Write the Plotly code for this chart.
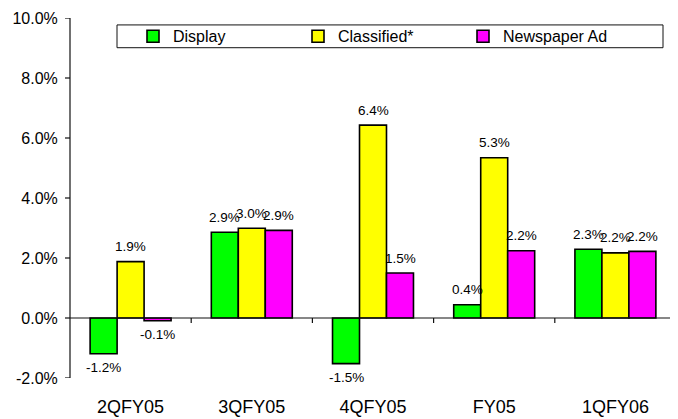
import plotly.graph_objects as go

categories = ["2QFY05", "3QFY05", "4QFY05", "FY05", "1QFY06"]
display = [-1.19, 2.86, -1.52, 0.44, 2.29]
classified = [1.88, 2.99, 6.43, 5.34, 2.17]
newspaper = [-0.09, 2.92, 1.50, 2.24, 2.22]
series_names = ["Display", "Classified*", "Newspaper Ad"]
colors = ["#00FF00", "#FFFF00", "#FF00FF"]
y_ticks = [-2, 0, 2, 4, 6, 8, 10]

# page is displayed with an 8px offset; figure sized to fill the rest
W, H = 670, 411
L, R, T, B = 62, 2, 9, 38.5
pw = W - L - R
ph = H - T - B
PLOT_LEFT, PLOT_BOTTOM = 70, 380.5  # in window pixels

def px_x(p):
    return (p - PLOT_LEFT) / pw

def px_y(p):
    return (PLOT_BOTTOM - p) / ph

FONT = "Liberation Sans, Arial, sans-serif"
LINE = "#111111"

fig = go.Figure()
all_series = [display, classified, newspaper]
for name, vals, col in zip(series_names, all_series, colors):
    fig.add_trace(go.Bar(
        x=categories, y=vals, name=name,
        marker=dict(color=col, line=dict(color="black", width=1.6)),
    ))

bar_px = 27
for i, vals in enumerate(all_series):
    for cat, v in zip(categories, vals):
        fig.add_annotation(
            x=cat, y=v, text=f"{v:.1f}%", showarrow=False,
            xshift=(i - 1) * bar_px,
            yshift=15 if v >= 0 else -14,
            font=dict(family=FONT, size=13.5, color="black"),
        )

shapes = [
    # legend frame
    dict(type="rect", xref="paper", yref="paper",
         x0=px_x(117), x1=px_x(663), y0=px_y(47), y1=px_y(24),
         line=dict(color=LINE, width=1), fillcolor="rgba(0,0,0,0)", layer="below"),
    # clipped title underline
    dict(type="rect", xref="paper", yref="paper",
         x0=px_x(252), x1=px_x(510), y0=px_y(4), y1=px_y(-3),
         line=dict(width=0), fillcolor="black"),
    # y-axis line
    dict(type="rect", xref="paper", yref="paper", xsizemode="pixel", xanchor=0,
         x0=-0.6, x1=0.6, y0=0, y1=1, line=dict(width=0), fillcolor=LINE),
    # zero (category) axis line
    dict(type="rect", xref="paper", yref="y", ysizemode="pixel", yanchor=0,
         x0=0, x1=1, y0=-0.6, y1=0.6, line=dict(width=0), fillcolor=LINE),
]
# y-axis tick marks
for t in y_ticks:
    shapes.append(dict(
        type="rect", xref="paper", yref="y", xsizemode="pixel", xanchor=0,
        ysizemode="pixel", yanchor=t, x0=-5, x1=0, y0=-0.6, y1=0.6,
        line=dict(width=0), fillcolor=LINE,
    ))
# category-boundary tick marks on the zero line
for k in range(1, len(categories) + 1):
    shapes.append(dict(
        type="rect", xref="x", yref="y", xsizemode="pixel", xanchor=k - 0.5,
        ysizemode="pixel", yanchor=0, x0=-1.2 if k == len(categories) else -0.6,
        x1=0.6, y0=-5, y1=0,
        line=dict(width=0), fillcolor=LINE,
    ))

fig.update_layout(
    width=W, height=H,
    margin=dict(l=L, r=R, t=T, b=B),
    paper_bgcolor="white", plot_bgcolor="white",
    barmode="group", bargap=0.332, bargroupgap=0,
    font=dict(family=FONT, color="black"),
    showlegend=True,
    legend=dict(
        orientation="h", x=px_x(133), xanchor="left", y=px_y(35.5), yanchor="middle",
        font=dict(family=FONT, size=16, color="black"),
        bgcolor="rgba(0,0,0,0)", borderwidth=0,
        entrywidth=120, entrywidthmode="pixels",
        traceorder="normal",
    ),
    xaxis=dict(
        type="category", range=[-0.5, 4.5], showline=False,
        ticks="outside", ticklen=12, tickcolor="rgba(0,0,0,0)",
        showgrid=False, zeroline=False,
        tickfont=dict(family=FONT, size=18, color="black"),
    ),
    yaxis=dict(
        range=[y_ticks[0], y_ticks[-1]], tickvals=y_ticks,
        ticktext=[f"{t:.1f}%" for t in y_ticks],
        showline=False,
        ticks="outside", ticklen=8, tickcolor="rgba(0,0,0,0)",
        showgrid=False, zeroline=False,
        tickfont=dict(family=FONT, size=16, color="black"),
    ),
    shapes=shapes,
)

fig.write_html("out.html")
